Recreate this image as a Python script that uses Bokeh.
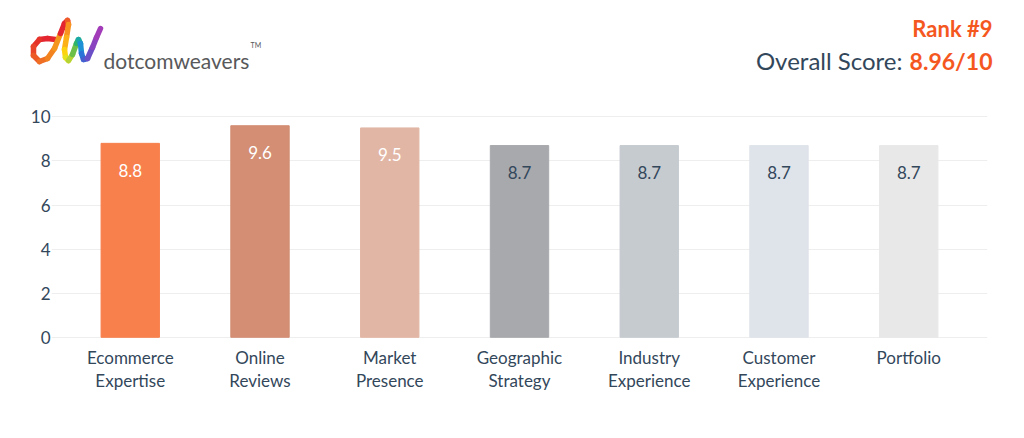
from bokeh.plotting import figure
from bokeh.models import ColumnDataSource, FactorRange, Range1d, FixedTicker
from bokeh.layouts import column, row
from bokeh.core.properties import value
from bokeh.embed import file_html
from bokeh.resources import INLINE

# ---- data ----
categories = ["Ecommerce\nExpertise", "Online\nReviews", "Market\nPresence",
              "Geographic\nStrategy", "Industry\nExperience", "Customer\nExperience",
              "Portfolio"]
scores = [8.8, 9.6, 9.5, 8.7, 8.7, 8.7, 8.7]
bar_colors = ["#f7804d", "#d38e73", "#e2b6a5", "#a8a9ad", "#c6cbd0", "#dfe3ea", "#e8e8e8"]
label_colors = ["#ffffff", "#ffffff", "#ffffff", "#33475b", "#33475b", "#33475b", "#33475b"]
y_ticks = [0, 2, 4, 6, 8, 10]
rank_text = "Rank #9"
overall_label = "Overall Score:"
overall_value = "8.96/10"
brand = "dotcomweavers"

FONT = "Lato"
DARK = "#33475b"
ORANGE = "#f5581f"

# ---- header (logo + rank) ----
W = 1008
HH = 98
hdr = figure(width=W, height=HH, x_range=Range1d(1, 1 + W), y_range=Range1d(HH, 0),
             x_axis_location=None, y_axis_location=None,
             output_backend="svg", toolbar_location=None, min_border=0)
hdr.grid.visible = False
hdr.outline_line_color = None

# decorative logo swoosh (page-pixel coordinates)
logo_x = [56, 48, 40, 34, 34, 40, 48, 55, 61, 65, 68, 69, 67, 65, 66, 69, 73, 77, 79, 81, 82, 84, 88, 93, 97, 101]
logo_y = [39, 38, 39, 46, 55, 61, 58, 48, 33, 23, 20, 24, 37, 49, 57, 60, 54, 43, 39, 43, 53, 59, 58, 47, 37, 28]
rainbow = ["#e3262f", "#e3262f", "#e5332a", "#e8452a", "#ec5a27", "#ef6f24", "#f2831f", "#f4961b",
           "#e3262f", "#e3262f", "#ef5b24", "#f7931e", "#fbb117", "#fdd20e", "#e6e21b", "#b5d334",
           "#6cc04a", "#2fb36b", "#1aa9a5", "#1e90d6", "#2a74d8", "#4460d0", "#6a4fc7", "#8a44bf", "#a33cb8"]
hdr.segment(x0=logo_x[:-1], y0=logo_y[:-1], x1=logo_x[1:], y1=logo_y[1:],
            line_color=rainbow, line_width=5.5, line_cap="round")
hdr.text(x=[104], y=[60], text=[brand], text_font=value(FONT), text_font_size="21px",
         text_color="#58595b", text_baseline="alphabetic", text_align="left")
hdr.text(x=[251], y=[44], text=["TM"], text_font=value(FONT), text_font_size="7px",
         text_color="#58595b", text_baseline="alphabetic", text_align="left")

hdr.text(x=[993], y=[28], text=[rank_text], text_font=value(FONT), text_font_size="22px",
         text_font_style="bold", text_color=ORANGE, text_baseline="middle", text_align="right")
hdr.text(x=[993], y=[60], text=[overall_value], text_font=value(FONT), text_font_size="23px",
         text_font_style="bold", text_color=ORANGE, text_baseline="middle", text_align="right")
hdr.text(x=[903], y=[60], text=[overall_label], text_font=value(FONT), text_font_size="24px",
         text_color=DARK, text_baseline="middle", text_align="right")

# ---- main bar chart ----
src = ColumnDataSource(dict(cat=categories, score=scores, color=bar_colors,
                            lcolor=label_colors, label=[f"{s:.1f}" for s in scores]))

p = figure(width=W, height=332,
           x_range=FactorRange(factors=categories, range_padding=0.107, range_padding_units="absolute"),
           y_range=Range1d(-0.1, 10.2),
           output_backend="svg", toolbar_location=None,
           min_border_left=51, min_border_right=21, min_border_top=14, min_border_bottom=91)
p.outline_line_color = None
p.xgrid.grid_line_color = None
p.ygrid.grid_line_color = "#eeeeee"
p.ygrid.grid_line_width = 1
p.yaxis.ticker = FixedTicker(ticks=y_ticks)

for ax in (p.xaxis[0], p.yaxis[0]):
    ax.axis_line_color = None
    ax.major_tick_line_color = None
    ax.minor_tick_line_color = None
    ax.major_tick_out = 0
    ax.minor_tick_out = 0
    ax.major_label_text_font = FONT
    ax.major_label_text_color = DARK
    ax.major_label_text_font_size = "17px"

p.yaxis.major_label_standoff = 1
p.xaxis.major_label_standoff = 7
p.xaxis.major_label_text_line_height = 1.1

p.vbar(x="cat", top="score", width=0.45, color="color", source=src)
p.text(x="cat", y="score", text="label", text_color="lcolor", source=src,
       text_font=value(FONT), text_font_size="17px", text_align="center",
       text_baseline="middle", y_offset=27)

layout = column(row(hdr), p)
open("out.html", "w").write(file_html(layout, INLINE))
